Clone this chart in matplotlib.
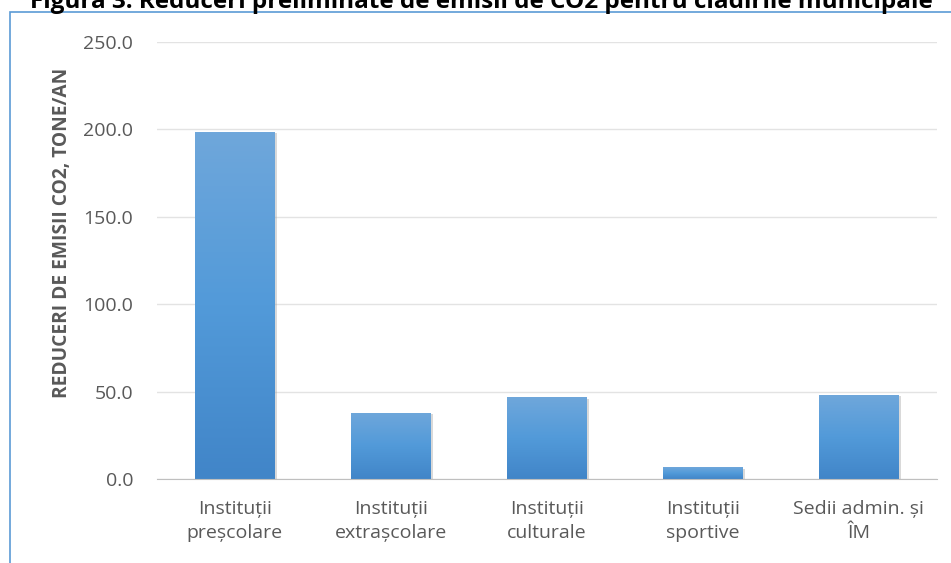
import matplotlib
matplotlib.use("Agg")
import matplotlib.pyplot as plt
import matplotlib.patheffects as pe
from matplotlib.patches import Rectangle
import numpy as np

plt.rcParams['font.family'] = ['Open Sans', 'DejaVu Sans']

categorii = ["Instituții\npreșcolare", "Instituții\nextrașcolare", "Instituții\nculturale",
             "Instituții\nsportive", "Sedii admin. și\nÎM"]
reduceri = [198.5, 37.8, 46.8, 6.8, 48.0]
yticks = [0, 50, 100, 150, 200, 250]

fig = plt.figure(figsize=(9.51, 5.63), dpi=100)
ax = fig.add_axes([0.165, 0.1492, 0.82, 0.7762])

# chenarul graficului
fig.patches.append(Rectangle((10 / 951, -0.1), 1.2, 1 - 12 / 563 + 0.1,
                             transform=fig.transFigure, fill=False,
                             edgecolor="#5b9bd5", linewidth=1.2))

x = np.arange(len(categorii))
bars = ax.bar(x, reduceri, width=0.51, color="#5b9bd5", zorder=3)

# gradient + umbra
grad = np.linspace(0, 1, 256).reshape(-1, 1)
cmap = matplotlib.colors.LinearSegmentedColormap.from_list("g", ["#4185c8", "#529ad9", "#6fa7db"])
for b in bars:
    b.set_path_effects([pe.SimplePatchShadow(offset=(2, -1), shadow_rgbFace="#a0a0a0", alpha=0.4),
                        pe.Normal()])
    x0, w, h = b.get_x(), b.get_width(), b.get_height()
    im = ax.imshow(grad, extent=(x0, x0 + w, 0, h), origin="lower", cmap=cmap,
                   aspect="auto", zorder=4)
    im.set_clip_path(b)

ax.set_xlim(-0.5, len(categorii) - 0.5)
ax.set_ylim(0, 250)
ax.set_yticks(yticks)
ax.set_yticklabels([f"{v:.1f}" for v in yticks])
ax.set_xticks(x)
ax.set_xticklabels(categorii, fontsize=14, color="#595959", linespacing=1.45)
ax.tick_params(axis="y", labelsize=14, labelcolor="#595959", length=0, pad=17)
ax.tick_params(axis="x", length=0, pad=15)
ax.grid(axis="y", color="#e3e3e3", linewidth=1, zorder=0)
for s in ["top", "right", "left"]:
    ax.spines[s].set_visible(False)
ax.spines["bottom"].set_color("#bfbfbf")
ax.spines["bottom"].set_zorder(5)

fig.text(62 / 951, 1 - 233 / 563, "REDUCERI DE EMISII CO2, TONE/AN", rotation=90,
         ha="center", va="center", fontsize=13.8, fontweight="bold", color="#595959")

fig.text(30 / 951, 1 - 8 / 563, "Figura 3. Reduceri preliminate de emisii de CO2 pentru clădirile municipale",
         ha="left", va="baseline", fontsize=17.5, fontweight="bold", color="black")

fig.savefig("out.png", dpi=100)
